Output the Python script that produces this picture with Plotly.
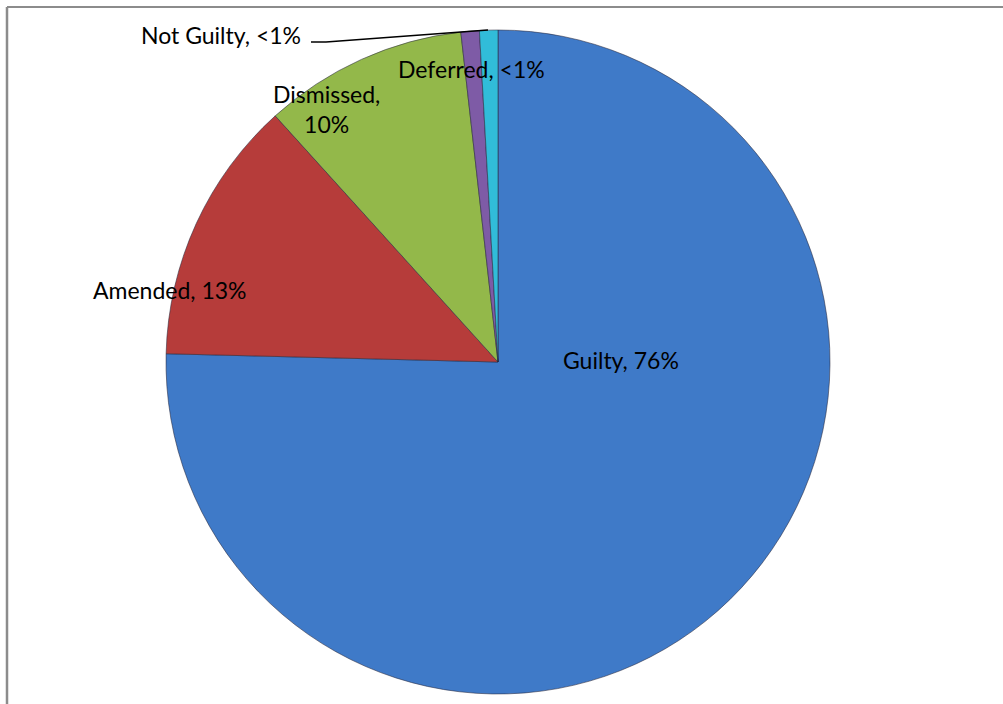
import plotly.graph_objects as go

# Case outcomes, clockwise from twelve o'clock
outcomes = ["Guilty", "Amended", "Dismissed", "Not Guilty", "Deferred"]
shares = [76, 13, 10, 0.9, 0.9]
share_text = ["76%", "13%", "10%", "<1%", "<1%"]
slice_colors = ["#3F7AC8", "#B63C3A", "#93B84A", "#7E5BA6", "#31BCD9"]

W, H = 1003, 704
cx, cy, r = 498, 362, 332

fig = go.Figure(
    go.Pie(
        labels=outcomes,
        values=shares,
        sort=False,
        direction="clockwise",
        rotation=0,
        textinfo="none",
        hoverinfo="label+percent",
        marker=dict(colors=slice_colors, line=dict(color="rgba(40,40,60,0.55)", width=1)),
        domain=dict(x=[(cx - r) / W, (cx + r) / W], y=[1 - (cy + r) / H, 1 - (cy - r) / H]),
        showlegend=False,
    )
)

font = dict(family="Lato, Open Sans, sans-serif", size=23, color="#000000")


def px(x, y):
    return x / W, 1 - y / H


# Data labels: (index, x, y, two-line)
label_spots = [
    (0, 621, 360, False),
    (1, 170, 290, False),
    (2, 326, 109, True),
    (3, 221, 35, False),
    (4, 471, 69, False),
]
for i, x, y, wrap in label_spots:
    sep = ",<br>" if wrap else ", "
    ax, ay = px(x, y)
    fig.add_annotation(
        x=ax, y=ay, xref="paper", yref="paper",
        text=f"{outcomes[i]}{sep}{share_text[i]}",
        showarrow=False, font=font, xanchor="center", yanchor="middle",
    )

# Leader line for the "Not Guilty" label
fig.add_shape(
    type="path",
    path="M 311 42 L 326 42 L 488 30",
    xref="x", yref="y",
    line=dict(color="#000000", width=1.5),
)

# Chart frame edges (left and top)
fig.add_shape(type="line", x0=7, y0=7, x1=1003, y1=7, xref="x", yref="y",
              line=dict(color="#8C8C8C", width=2))
fig.add_shape(type="line", x0=7, y0=7, x1=7, y1=704, xref="x", yref="y",
              line=dict(color="#8C8C8C", width=2.5))

fig.update_layout(
    width=W, height=H,
    margin=dict(l=0, r=0, t=0, b=0),
    paper_bgcolor="white",
    plot_bgcolor="rgba(0,0,0,0)",
    xaxis=dict(range=[0, W], visible=False, fixedrange=True),
    yaxis=dict(range=[H, 0], visible=False, fixedrange=True),
)

fig.write_html("out.html")
